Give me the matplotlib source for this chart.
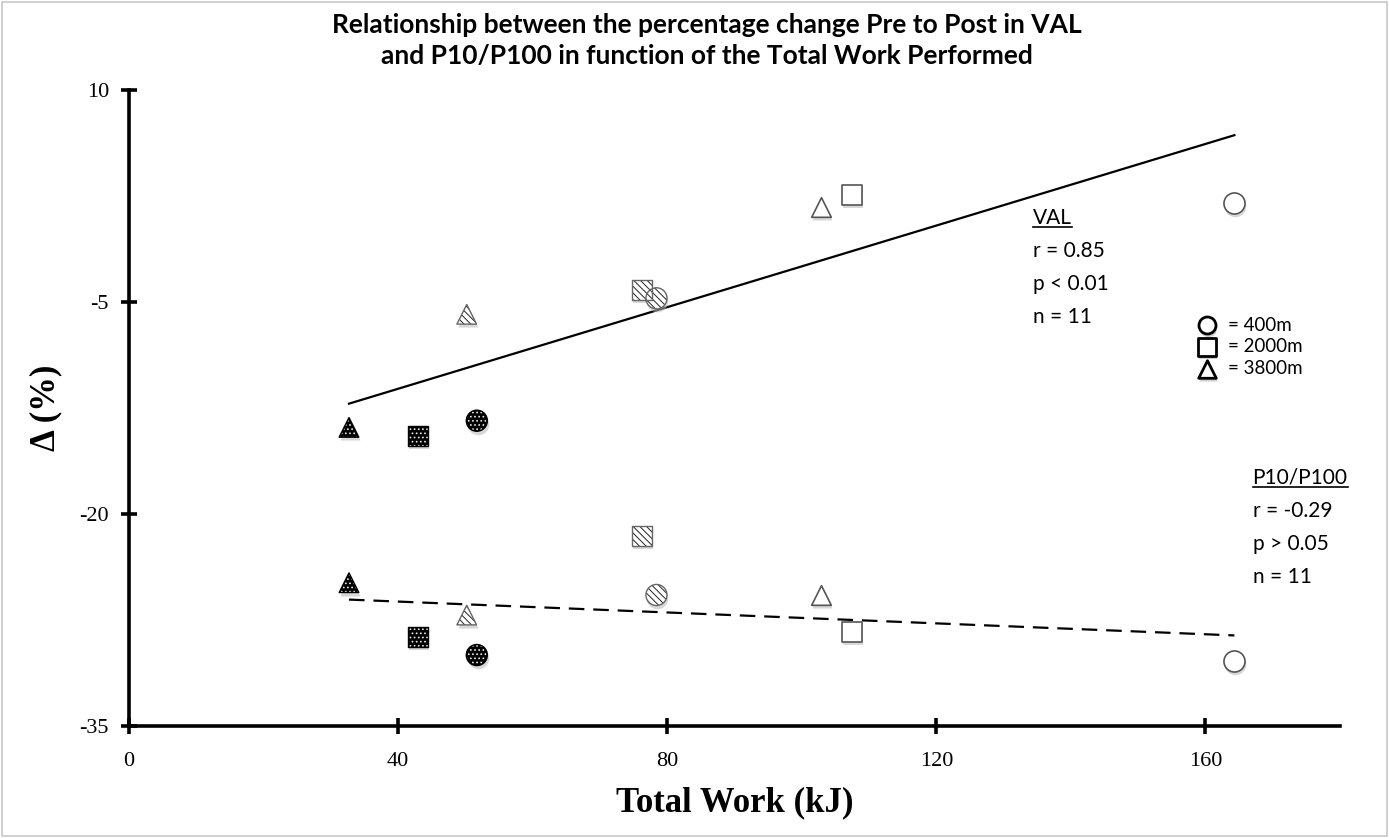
import matplotlib
matplotlib.use("Agg")
import matplotlib.pyplot as plt
import matplotlib.transforms as mtransforms
from matplotlib.patches import Rectangle
import numpy as np

# Total work (kJ) and percentage change for each swim trial
work_circle = [51.7, 78.4, 164.3]     # 400m
work_square = [42.9, 76.3, 107.5]     # 2000m
work_triangle = [32.7, 50.2, 102.9]   # 3800m

val_circle = [-13.40, -4.74, 2.00]
val_square = [-14.46, -4.15, 2.57]
val_triangle = [-13.87, -5.87, 1.74]

p10_circle = [-29.98, -25.73, -30.40]
p10_square = [-28.73, -21.54, -28.33]
p10_triangle = [-24.86, -27.15, -25.73]

fill_styles = ["dotted", "hatched", "open"]

val_stats = ["VAL", "r = 0.85", "p < 0.01", "n = 11"]
p10_stats = ["P10/P100", "r = -0.29", "p > 0.05", "n = 11"]
legend_labels = ["= 400m", "= 2000m", "= 3800m"]

plt.rcParams["axes.unicode_minus"] = False
plt.rcParams["hatch.linewidth"] = 0.7

serif = "Liberation Serif"
sans = "Lato"

fig = plt.figure(figsize=(13.89, 8.38), dpi=100)
ax = fig.add_axes([129 / 1389, 1 - 726 / 838, (1340 - 129) / 1389, (726 - 90) / 838])
ax.set_xlim(0, 180)
ax.set_ylim(-35, 10)

shadow = mtransforms.offset_copy(ax.transData, fig=fig, x=1.0, y=-3.0, units="dots")


def draw_points(xs, ys, marker, size):
    for x, y, style in zip(xs, ys, fill_styles):
        ax.scatter([x], [y], marker=marker, s=size * 1.05, color="#b8b8b8", alpha=0.55,
                   linewidths=0, transform=shadow, zorder=2)
        if style == "dotted":
            ax.scatter([x], [y], marker=marker, s=size, facecolor="black",
                       edgecolor="#e8e8e8", hatch="....", linewidths=0, zorder=3)
            ax.scatter([x], [y], marker=marker, s=size, facecolor="none",
                       edgecolor="black", linewidths=1.0, zorder=4)
        elif style == "hatched":
            ax.scatter([x], [y], marker=marker, s=size, facecolor="white",
                       edgecolor="#222222", hatch="\\\\\\\\\\", linewidths=0, zorder=3)
            ax.scatter([x], [y], marker=marker, s=size, facecolor="none",
                       edgecolor="#666666", linewidths=1.0, zorder=4)
        else:
            ax.scatter([x], [y], marker=marker, s=size, facecolor="white",
                       edgecolor="#555555", linewidths=1.2, zorder=3)


all_work = np.array(work_circle + work_square + work_triangle)
all_val = np.array(val_circle + val_square + val_triangle)
all_p10 = np.array(p10_circle + p10_square + p10_triangle)

# Least-squares trend lines over the observed work range
xfit = np.array([all_work.min(), all_work.max()])
k_val = np.polyfit(all_work, all_val, 1)
k_p10 = np.polyfit(all_work, all_p10, 1)
ax.plot(xfit, np.polyval(k_val, xfit), color="black", lw=1.6, zorder=1)
ax.plot(xfit, np.polyval(k_p10, xfit), color="black", lw=1.6, dashes=(7, 4), zorder=1)

for vals in (val_circle, p10_circle):
    draw_points(work_circle, vals, "o", 230)
for vals in (val_square, p10_square):
    draw_points(work_square, vals, "s", 210)
for vals in (val_triangle, p10_triangle):
    draw_points(work_triangle, vals, "^", 200)

# Axes styling
for side in ("top", "right"):
    ax.spines[side].set_visible(False)
for side in ("left", "bottom"):
    ax.spines[side].set_linewidth(2.6)
ax.set_xticks([0, 40, 80, 120, 160])
ax.set_yticks([10, -5, -20, -35])
ax.tick_params(direction="inout", length=11, width=2.6, labelsize=16)
ax.tick_params(axis="x", pad=13)
ax.tick_params(axis="y", pad=9)
for lab in ax.get_xticklabels() + ax.get_yticklabels():
    lab.set_fontfamily(serif)
ax.set_xlabel("Total Work (kJ)", fontfamily=serif, fontweight="bold", fontsize=25, labelpad=11)
ax.set_ylabel("Δ (%)", fontfamily=serif, fontweight="bold", fontsize=25, labelpad=12)
ax.patch.set_visible(False)

# Title
fig.text(707 / 1389, 1 - 25 / 838, "Relationship between the percentage change Pre to Post in VAL",
         ha="center", va="center", fontfamily=sans, fontweight="bold", fontsize=19)
fig.text(707 / 1389, 1 - 56 / 838, "and P10/P100 in function of the Total Work Performed",
         ha="center", va="center", fontfamily=sans, fontweight="bold", fontsize=19)

# Statistics blocks
stat_texts = []
for block, x0, y_tops in ((val_stats, 134.3, [0.94, -1.40, -3.73, -6.07]),
                          (p10_stats, 167.0, [-17.45, -19.79, -22.12, -24.46])):
    for i, (line, y) in enumerate(zip(block, y_tops)):
        t = ax.text(x0, y, line, ha="left", va="center", fontfamily=sans, fontsize=15, zorder=5)
        if i == 0:
            stat_texts.append(t)

# Marker key
key_y = [-6.63, -8.18, -9.74]
key_markers = ["o", "s", "^"]
key_sizes = [150, 160, 160]
for y, m, s, lab in zip(key_y, key_markers, key_sizes, legend_labels):
    ax.scatter([160.3], [y], marker=m, s=s * 1.05, color="#b0b0b0", alpha=0.6,
               linewidths=0, transform=shadow, zorder=4)
    ax.scatter([160.3], [y], marker=m, s=s, facecolor="white", edgecolor="black",
               linewidths=2.0, zorder=5)
    ax.text(163.4, y, lab, ha="left", va="center", fontfamily=sans, fontsize=13.5, zorder=5)

# Underline the block headings
fig.canvas.draw()
renderer = fig.canvas.get_renderer()
inv = fig.transFigure.inverted()
for t in stat_texts:
    bb = t.get_window_extent(renderer)
    (x0, y0), (x1, _) = inv.transform([(bb.x0, bb.y0 + 1), (bb.x1, bb.y0)])
    fig.add_artist(plt.Line2D([x0, x1], [y0, y0], transform=fig.transFigure,
                              color="black", lw=1.2))

# Thin frame around the whole chart
fig.add_artist(Rectangle((0.0015, 0.002), 0.997, 0.996, transform=fig.transFigure,
                         fill=False, edgecolor="#c8c8c8", lw=1.2))

fig.savefig("out.png", dpi=100)
